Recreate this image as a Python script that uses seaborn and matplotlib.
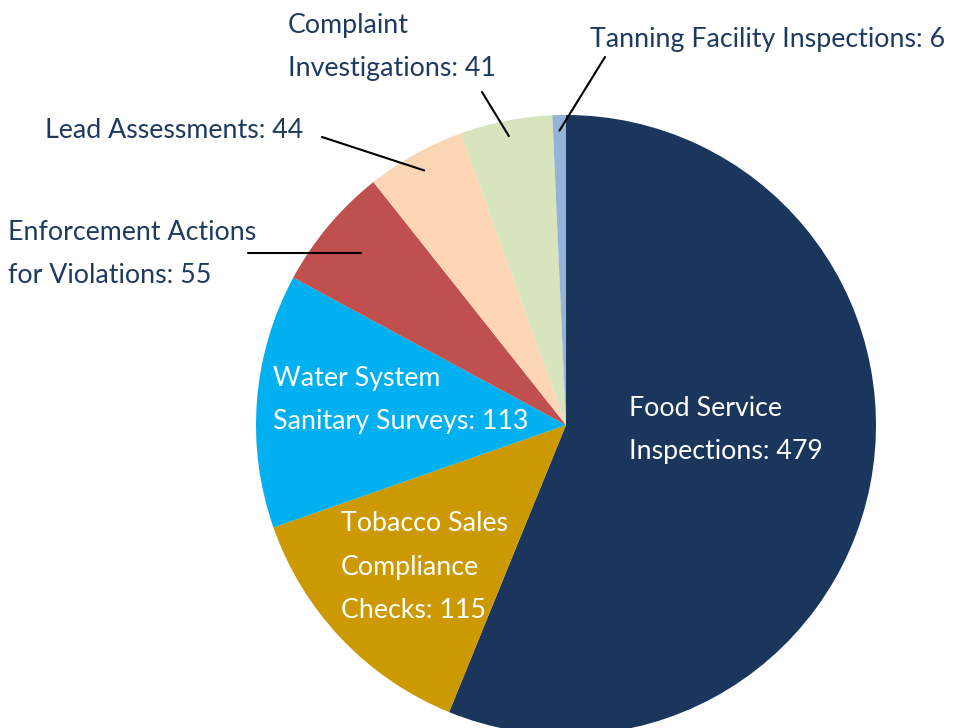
import numpy as np
import matplotlib
matplotlib.use("Agg")
import matplotlib.pyplot as plt
import seaborn as sns

# data
categories = ["Food Service Inspections", "Tobacco Sales Compliance Checks",
              "Water System Sanitary Surveys", "Enforcement Actions for Violations",
              "Lead Assessments", "Complaint Investigations",
              "Tanning Facility Inspections"]
counts = [479, 115, 113, 55, 44, 41, 6]
colors = ["#1B365D", "#CC9900", "#00B0F0", "#C0504D", "#FCD5B5", "#D7E4BD", "#95B3D7"]

sns.set_style("white")
plt.rcParams["font.family"] = ["Lato", "DejaVu Sans"]

W, H = 964, 728
fig = plt.figure(figsize=(W / 100, H / 100), dpi=100)
ax = fig.add_axes([0, 0, 1, 1])

cx, cy, R = 566, H - 425, 310
wedges, _ = ax.pie(counts, colors=sns.color_palette(colors), startangle=90,
                   counterclock=False, center=(cx, cy), radius=R,
                   wedgeprops=dict(linewidth=0), frame=True)
ax.set_xlim(0, W)
ax.set_ylim(0, H)
ax.set_aspect("equal")
ax.axis("off")

navy = "#1F3A60"
fs = 19.3
ls = 1.92

# label text: (text, x, y of block centre in px from top, colour)
labels = [
    ("Food Service\nInspections: 479", 629, 430, "white"),
    ("Tobacco Sales\nCompliance\nChecks: 115", 341, 567, "white"),
    ("Water System\nSanitary Surveys: 113", 273, 400, "white"),
    ("Enforcement Actions\nfor Violations: 55", 8, 254, navy),
    ("Lead Assessments: 44", 45, 131, navy),
    ("Complaint\nInvestigations: 41", 288, 47, navy),
    ("Tanning Facility Inspections: 6", 590, 40, navy),
]
for txt, x, y, c in labels:
    ax.text(x, H - y, txt, color=c, fontsize=fs, ha="left", va="center",
            linespacing=ls)

# leader lines: from label end to a point on the wedge's middle ray
leaders = {4: ((322, 137), 0.94), 5: ((482, 92), 0.95), 6: ((605, 57), 0.95)}
for i, ((lx, ly), rf) in leaders.items():
    w = wedges[i]
    mid = np.deg2rad((w.theta1 + w.theta2) / 2)
    px = cx + rf * R * np.cos(mid)
    py = cy + rf * R * np.sin(mid)
    ax.plot([lx, px], [H - ly, py], color="black", lw=1.5)

# enforcement leader is horizontal
w = wedges[3]
mid = np.deg2rad((w.theta1 + w.theta2) / 2)
ly = H - 253
px = cx + (ly - cy) / np.tan(mid)
ax.plot([248, px], [ly, ly], color="black", lw=1.5)

fig.savefig("out.png", dpi=100)
